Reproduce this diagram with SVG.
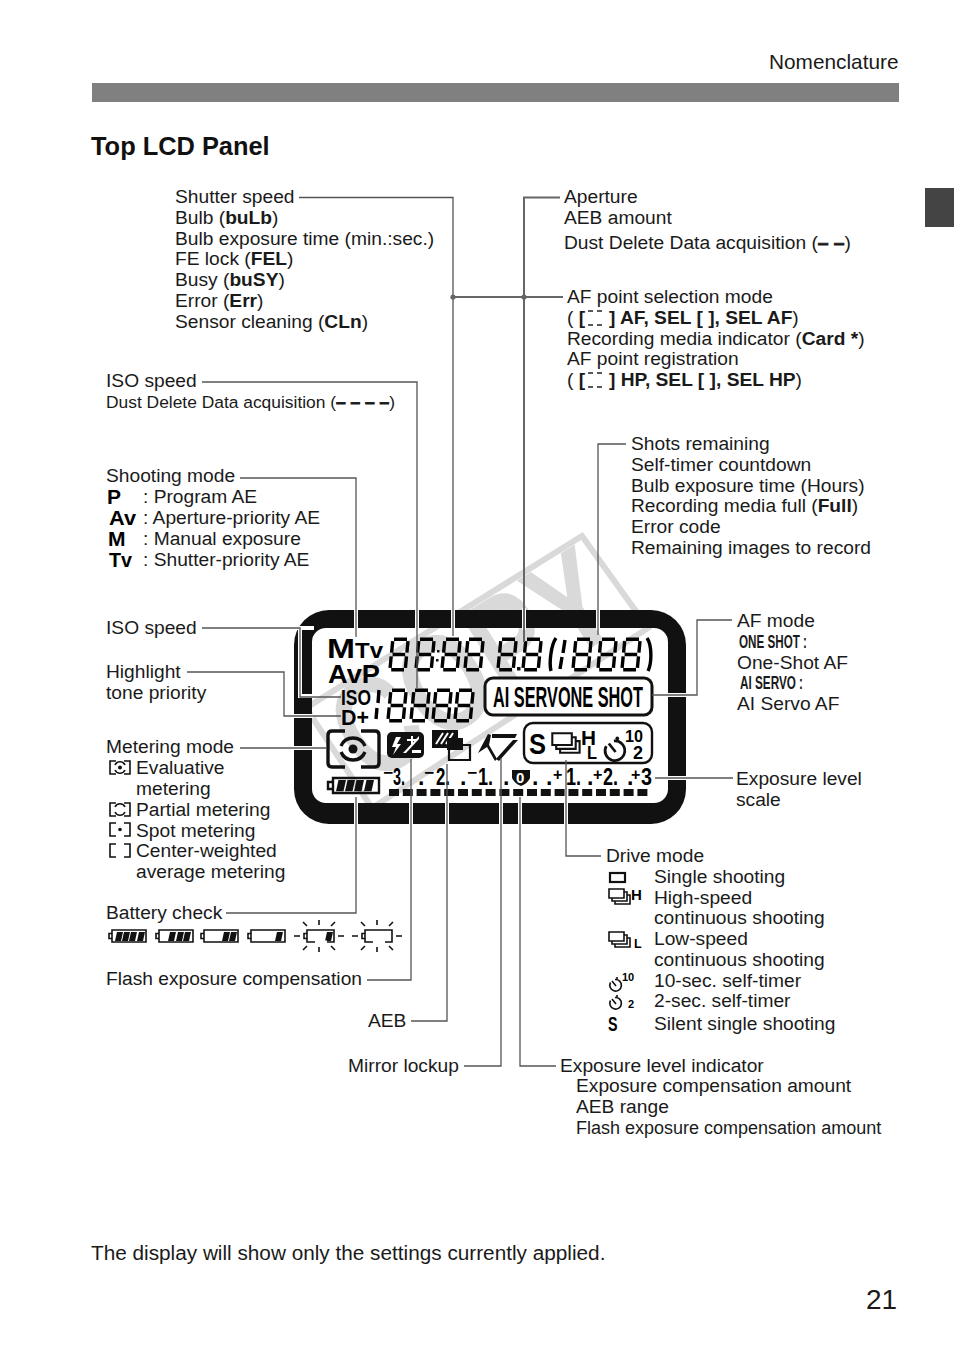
<svg xmlns="http://www.w3.org/2000/svg" width="954" height="1345" viewBox="0 0 954 1345">
<style>
text{font-family:"Liberation Sans",Arial,sans-serif;font-size:19.2px;fill:#1a1a1a}
.b{font-weight:bold}
.sm{font-size:17.4px}
.dh{font-weight:bold;stroke:#1a1a1a;stroke-width:.9px}
.lb{font-weight:bold;fill:#000}
.c{fill:none;stroke:#555;stroke-width:1.3}
.ct{fill:none;stroke:#666;stroke-width:2}
.h{fill:none;stroke:#fff;stroke-width:4}
.ic{fill:none;stroke:#111;stroke-width:1.6}
.fi{fill:#111}
.wo{fill:none;stroke:#d9d9d9;stroke-width:6}
.d{fill:none;stroke:#000;stroke-width:3.4}
.ss{font-weight:bold;fill:#000;font-size:23px}
.sg{font-weight:bold;fill:#000;font-size:16px}
</style>
<defs>
<symbol id="dg" overflow="visible"><path class="d" d="M5 1.300H18M3.600 16.500H16.200M2.200 31.700H15M3.700 3.200L2.600 14.600M2.200 18.400L1.100 29.800M19 3.200L17.900 14.600M17.500 18.400L16.400 29.800"/></symbol>
<g id="bat"><path class="ic" d="M4 3H38V15H4ZM1 6.500H4V11.500H1Z"/></g>
<g id="cell"><path class="fi" d="M2 0H8L6 9H0Z"/></g>
<g id="stack"><path class="ic" stroke-width="2" d="M1 1H16V10H1ZM16 4H19V13H4V10M19 7H22V16H7V13"/></g>
<g id="rays"><path class="ic" stroke-width="1" d="M-9 9H-3M16 -7V-2M16 20V25M35 9H41M0 -5L4 -1M32 -5L28 -1M0 23L4 19M32 23L28 19"/></g>
<g id="timer"><path class="ic" stroke-width="1.700" d="M7 3.500A5.800 5.800 0 1 1 2.500 6.500M4 5L8 10"/><circle class="fi" cx="9" cy="2" r="1.100"/></g>
</defs>
<rect width="954" height="1345" fill="#fff"/>
<g id="header">
<text x="769" y="69" style="font-size:20.800px">Nomenclature</text>
<rect x="92" y="83" width="807" height="19" fill="#808080"/>
<rect x="925" y="188" width="29" height="39" fill="#444"/>
<text x="91" y="155" class="b" style="font-size:25.400px;fill:#111">Top LCD Panel</text>
</g>
<g id="watermark">
<path class="wo" d="M582 536L648 628L372 808L306 708Z"/>
<g transform="translate(477 672) rotate(-32)"><text x="-152" y="40" style="font-size:140px;font-weight:bold;fill:#d9d9d9" textLength="304" lengthAdjust="spacingAndGlyphs">COPY</text></g>
</g>
<g id="lcd-frame">
<path fill="#111" fill-rule="evenodd" d="M329 610H651A35 35 0 0 1 686 645V789A35 35 0 0 1 651 824H329A35 35 0 0 1 294 789V645A35 35 0 0 1 329 610ZM326 628A14 14 0 0 0 312 642V789A14 14 0 0 0 326 803H654A14 14 0 0 0 668 789V642A14 14 0 0 0 654 628Z"/>
</g>
<g id="lcd-modes">
<text x="327" y="658" class="lb" style="font-size:28px" textLength="28" lengthAdjust="spacingAndGlyphs">M</text>
<text x="355" y="658" class="lb" style="font-size:22px" textLength="28" lengthAdjust="spacingAndGlyphs">Tv</text>
<text x="328" y="683" class="lb" style="font-size:25px" textLength="52" lengthAdjust="spacingAndGlyphs">AvP</text>
<text x="341" y="705" class="lb" style="font-size:22px" textLength="30" lengthAdjust="spacingAndGlyphs">ISO</text>
<text x="341" y="725" class="lb" style="font-size:22px" textLength="28" lengthAdjust="spacingAndGlyphs">D+</text>
</g>
<g id="lcd-digits">
<use href="#dg" x="389" y="638"/><use href="#dg" x="415" y="638"/>
<rect x="437" y="650" width="2.500" height="2.500" class="fi"/><rect x="436" y="659" width="2.500" height="2.500" class="fi"/>
<use href="#dg" x="441" y="638"/><use href="#dg" x="464" y="638"/>
<use href="#dg" x="497" y="638"/><use href="#dg" x="522" y="638"/>
<rect x="517" y="667" width="3.500" height="3.500" class="fi"/>
<path class="d" d="M556 638C551 645 549 663 551 671"/><path class="d" d="M647 638C652 645 652 663 648 671"/>
<path class="d" d="M565 640L563 653M562 657L560 669"/>
<use href="#dg" x="572" y="638"/><use href="#dg" x="597" y="638"/><use href="#dg" x="621" y="638"/>
<path class="d" d="M379 690L378 703M377 708L376 719"/>
<use href="#dg" x="387" y="689"/><use href="#dg" x="410" y="689"/><use href="#dg" x="432" y="689"/><use href="#dg" x="454" y="689"/>
</g>
<g id="lcd-af-mode">
<rect x="485" y="678" width="167" height="37" rx="8" fill="#fff" stroke="#111" stroke-width="3"/>
<text x="493" y="707" class="lb" style="font-size:29px" textLength="150" lengthAdjust="spacingAndGlyphs">AI SERVONE SHOT</text>
</g>
<g id="lcd-metering">
<path fill="none" stroke="#111" stroke-width="3.400" d="M345 731H332Q328 731 328 735V763Q328 767 332 767H345M361 731H375Q379 731 379 735V763Q379 767 375 767H361"/>
<circle cx="353" cy="749" r="4.500" class="fi"/>
<path fill="none" stroke="#111" stroke-width="3.400" d="M341 746A13 13 0 0 1 365 746M341 752A13 13 0 0 0 365 752"/>
</g>
<g id="lcd-flash-comp">
<rect x="387" y="732" width="37" height="26" rx="5" class="fi"/>
<path fill="#fff" d="M396 737L392 747H396L393 755L401 744H397L401 737ZM407 739H411V736H413V739H417V741H413V744H411V741H407ZM403 753L419 736V739L406 753ZM412 750H421V753H412Z"/>
</g>
<g id="lcd-multi">
<rect x="432" y="730" width="26" height="18" class="fi"/>
<path stroke="#fff" stroke-width="2" d="M436 744L443 733M441 744L448 733M446 744L453 733"/>
<rect x="447" y="738" width="16" height="12" class="fi"/>
<path fill="none" stroke="#111" stroke-width="2.200" d="M449 750V760H470V745H463"/>
</g>
<g id="lcd-mirror">
<path class="fi" d="M488 734L478 753L487 747L495 761L497 759L489 745L491 735Z"/>
<path class="fi" d="M492 734H517L515 738H492ZM513 740H518L499 761L496 759Z"/>
</g>
<g id="lcd-drive">
<rect x="524" y="723" width="128" height="40" rx="9" fill="none" stroke="#111" stroke-width="2.400"/>
<text x="529" y="754" class="lb" style="font-size:29px" textLength="17" lengthAdjust="spacingAndGlyphs">S</text>
<use href="#stack" transform="translate(551 732) scale(1.300)"/>
<text x="581" y="745" class="lb" style="font-size:21px" textLength="15" lengthAdjust="spacingAndGlyphs">H</text>
<text x="587" y="759" class="lb" style="font-size:19px" textLength="10" lengthAdjust="spacingAndGlyphs">L</text>
<g transform="translate(602 735) scale(1.700)"><use href="#timer"/></g>
<text x="625" y="742" class="lb" style="font-size:16px" textLength="18" lengthAdjust="spacingAndGlyphs">10</text>
<text x="633" y="759" class="lb" style="font-size:18px">2</text>
</g>
<g id="lcd-scale">
<text x="383" y="778" class="sg" textLength="10" lengthAdjust="spacingAndGlyphs">−</text><text x="393" y="785" class="ss" textLength="12" lengthAdjust="spacingAndGlyphs">3.</text>
<text x="418" y="785" class="ss">.</text>
<text x="424" y="778" class="sg" textLength="10" lengthAdjust="spacingAndGlyphs">−</text><text x="436" y="785" class="ss" textLength="14" lengthAdjust="spacingAndGlyphs">2.</text>
<text x="460" y="785" class="ss">.</text>
<text x="467" y="778" class="sg" textLength="10" lengthAdjust="spacingAndGlyphs">−</text><text x="478" y="785" class="ss" textLength="15" lengthAdjust="spacingAndGlyphs">1.</text>
<text x="503" y="785" class="ss">.</text>
<path class="fi" d="M512 770H530V778Q528 783 521 786Q514 783 512 778Z"/>
<text x="516" y="783" style="font-size:15px;font-weight:bold;fill:#fff">0</text>
<text x="532" y="785" class="ss">.</text><text x="546" y="785" class="ss">.</text>
<text x="553" y="780" class="sg">+</text><text x="566" y="785" class="ss" textLength="15" lengthAdjust="spacingAndGlyphs">1.</text>
<text x="587" y="785" class="ss">.</text>
<text x="593" y="780" class="sg">+</text><text x="603" y="785" class="ss" textLength="15" lengthAdjust="spacingAndGlyphs">2.</text>
<text x="627" y="785" class="ss">.</text>
<text x="631" y="780" class="sg">+</text><text x="641" y="785" class="ss" textLength="11" lengthAdjust="spacingAndGlyphs">3</text>
<line x1="389" y1="792.500" x2="651" y2="792.500" stroke="#111" stroke-width="7" stroke-dasharray="10 3.800"/>
</g>
<g id="lcd-battery">
<path fill="none" stroke="#111" stroke-width="2.400" d="M333 778H379V793H333ZM328 782H333V789H328Z"/>
<use href="#cell" transform="translate(336 780) scale(1.250)"/><use href="#cell" transform="translate(345 780) scale(1.250)"/><use href="#cell" transform="translate(354 780) scale(1.250)"/><use href="#cell" transform="translate(364 780) scale(1.250)"/>
</g>
<g id="connectors">
<path class="h" d="M356 608V630M417 608V630M453 608V630M524 608V630M598 608V630M356 801V826M411 801V826M447 801V826M501 801V826M520 801V826M566 801V826M293 628H314M300 626V698M300 696H314M293 716H314M665 695H690M665 778H690M292 748H314"/>
<path class="c" d="M299 197.500H453V636M202 382H417V688M240 478H356V637M626 444H598V635M732 620H697V695H652M733 778H655M202 628H300V697H341M187 672H284V716H341M240 748H326M226 913H356V797M367 980H411V759M411 1021H447V764M464 1066H501V758M556 1066H520V797M601 856H566V760"/>
<path class="ct" d="M560 197.500H524V642M563 297H453"/>
<circle cx="453" cy="297" r="2.600" fill="#666"/><circle cx="524" cy="297" r="2.600" fill="#666"/>
</g>
<g id="shutter-speed">
<text x="175" y="203">Shutter speed</text>
<text x="175" y="224">Bulb (<tspan class="b">buLb</tspan>)</text>
<text x="175" y="245">Bulb exposure time (min.:sec.)</text>
<text x="175" y="265">FE lock (<tspan class="b">FEL</tspan>)</text>
<text x="175" y="286">Busy (<tspan class="b">buSY</tspan>)</text>
<text x="175" y="307">Error (<tspan class="b">Err</tspan>)</text>
<text x="175" y="328">Sensor cleaning (<tspan class="b">CLn</tspan>)</text>
</g>
<g id="aperture">
<text x="564" y="203">Aperture</text>
<text x="564" y="224">AEB amount</text>
<text x="564" y="249">Dust Delete Data acquisition (<tspan class="dh">– –</tspan>)</text>
</g>
<g id="af-point">
<text x="567" y="303">AF point selection mode</text>
<text x="567" y="324">( <tspan class="b">[</tspan></text><text x="609" y="324" class="b">] AF, SEL [ ], SEL AF<tspan style="font-weight:normal">)</tspan></text>
<text x="567" y="345">Recording media indicator (<tspan class="b">Card *</tspan>)</text>
<text x="567" y="365">AF point registration</text>
<text x="567" y="386">( <tspan class="b">[</tspan></text><text x="609" y="386" class="b">] HP, SEL [ ], SEL HP<tspan style="font-weight:normal">)</tspan></text>
<path stroke="#222" stroke-width="1.500" stroke-dasharray="5 4" d="M588 311H603M588 325H603M588 373H603M588 387H603"/>
</g>
<g id="iso-speed-top">
<text x="106" y="387">ISO speed</text>
<text x="106" y="408" class="sm">Dust Delete Data acquisition (<tspan class="dh">– – – –</tspan>)</text>
</g>
<g id="shooting-mode">
<text x="106" y="482">Shooting mode</text>
<text x="107" y="504" class="lb" style="font-size:21px">P</text><text x="143" y="503">: Program AE</text>
<text x="109" y="525" class="lb" style="font-size:21px" textLength="27" lengthAdjust="spacingAndGlyphs">Av</text><text x="143" y="524">: Aperture-priority AE</text>
<text x="108" y="546" class="lb" style="font-size:21px">M</text><text x="143" y="545">: Manual exposure</text>
<text x="109" y="567" class="lb" style="font-size:21px" textLength="23" lengthAdjust="spacingAndGlyphs">Tv</text><text x="143" y="566">: Shutter-priority AE</text>
</g>
<g id="shots-remaining">
<text x="631" y="450">Shots remaining</text>
<text x="631" y="471">Self-timer countdown</text>
<text x="631" y="492">Bulb exposure time (Hours)</text>
<text x="631" y="512">Recording media full (<tspan class="b">Full</tspan>)</text>
<text x="631" y="533">Error code</text>
<text x="631" y="554">Remaining images to record</text>
</g>
<g id="iso-speed"><text x="106" y="634">ISO speed</text></g>
<g id="highlight"><text x="106" y="678">Highlight</text><text x="106" y="699">tone priority</text></g>
<g id="af-mode">
<text x="737" y="627">AF mode</text>
<text x="739" y="648" class="b" style="font-size:18.500px" textLength="68" lengthAdjust="spacingAndGlyphs">ONE SHOT :</text>
<text x="737" y="669">One-Shot AF</text>
<text x="740" y="689" class="b" style="font-size:18.500px" textLength="63" lengthAdjust="spacingAndGlyphs">AI SERVO :</text>
<text x="737" y="710">AI Servo AF</text>
</g>
<g id="metering-mode">
<text x="106" y="753">Metering mode</text>
<path class="ic" d="M116 761H110V774H116M124 761H130V774H124M116 803H110V816H116M124 803H130V816H124M116 823H110V836H116M124 823H130V836H124M116 844H110V857H116M124 844H130V857H124"/>
<path class="ic" stroke-width="1" d="M115 765A5.500 5.500 0 0 1 125 765M115 770A5.500 5.500 0 0 0 125 770M115 807A5.500 5.500 0 0 1 125 807M115 812A5.500 5.500 0 0 0 125 812"/>
<circle cx="120" cy="767.500" r="2" class="fi"/><circle cx="120" cy="829.500" r="1.800" class="fi"/>
<text x="136" y="774">Evaluative</text>
<text x="136" y="795">metering</text>
<text x="136" y="816">Partial metering</text>
<text x="136" y="837">Spot metering</text>
<text x="136" y="857">Center-weighted</text>
<text x="136" y="878">average metering</text>
</g>
<g id="battery-check">
<text x="106" y="919">Battery check</text>
<use href="#bat" transform="translate(108 927)"/><use href="#cell" transform="translate(115 932)"/><use href="#cell" transform="translate(122 932)"/><use href="#cell" transform="translate(129 932)"/><use href="#cell" transform="translate(137 932)"/>
<use href="#bat" transform="translate(155 927)"/><use href="#cell" transform="translate(168 932)"/><use href="#cell" transform="translate(176 932)"/><use href="#cell" transform="translate(183 932)"/>
<use href="#bat" transform="translate(200 927)"/><use href="#cell" transform="translate(222 932)"/><use href="#cell" transform="translate(229 932)"/>
<use href="#bat" transform="translate(247 927)"/><use href="#cell" transform="translate(275 932)"/>
<g transform="translate(303 927)"><path class="ic" d="M4 3H31V15H4ZM1 6.500H4V11.500H1Z"/><use href="#cell" x="22" y="5"/><path stroke="#fff" stroke-width="3" d="M12 15H24"/><use href="#rays"/></g>
<g transform="translate(361 927)"><path class="ic" d="M4 3H31V15H4ZM1 6.500H4V11.500H1Z"/><path stroke="#fff" stroke-width="3" d="M12 15H24"/><use href="#rays"/></g>
</g>
<g id="flash-comp"><text x="106" y="985">Flash exposure compensation</text></g>
<g id="aeb"><text x="368" y="1027">AEB</text></g>
<g id="mirror-lockup"><text x="348" y="1072">Mirror lockup</text></g>
<g id="exposure-scale"><text x="736" y="785">Exposure level</text><text x="736" y="806">scale</text></g>
<g id="drive-mode">
<text x="606" y="862">Drive mode</text>
<rect x="610" y="873" width="15" height="9" fill="none" stroke="#111" stroke-width="2.200"/>
<text x="654" y="883">Single shooting</text>
<use href="#stack" transform="translate(608 888)"/><text x="631" y="900" class="lb" style="font-size:15px">H</text>
<text x="654" y="904">High-speed</text>
<text x="654" y="924">continuous shooting</text>
<use href="#stack" transform="translate(608 931)"/><text x="634" y="948" class="lb" style="font-size:12.500px">L</text>
<text x="654" y="945">Low-speed</text>
<text x="654" y="966">continuous shooting</text>
<use href="#timer" transform="translate(608 976)"/><text x="622" y="981" class="lb" style="font-size:11px">10</text>
<text x="654" y="987">10-sec. self-timer</text>
<use href="#timer" transform="translate(608 994)"/><text x="628" y="1008" class="lb" style="font-size:11px">2</text>
<text x="654" y="1007">2-sec. self-timer</text>
<text x="608" y="1031" class="lb" style="font-size:20px" textLength="9.500" lengthAdjust="spacingAndGlyphs">S</text>
<text x="654" y="1030">Silent single shooting</text>
</g>
<g id="exposure-indicator">
<text x="560" y="1072">Exposure level indicator</text>
<text x="576" y="1092">Exposure compensation amount</text>
<text x="576" y="1113">AEB range</text>
<text x="576" y="1134" style="font-size:18px">Flash exposure compensation amount</text>
</g>
<g id="footer">
<text x="91" y="1260" style="font-size:20.760px">The display will show only the settings currently applied.</text>
<text x="866" y="1309" style="font-size:28px">21</text>
</g>
</svg>
